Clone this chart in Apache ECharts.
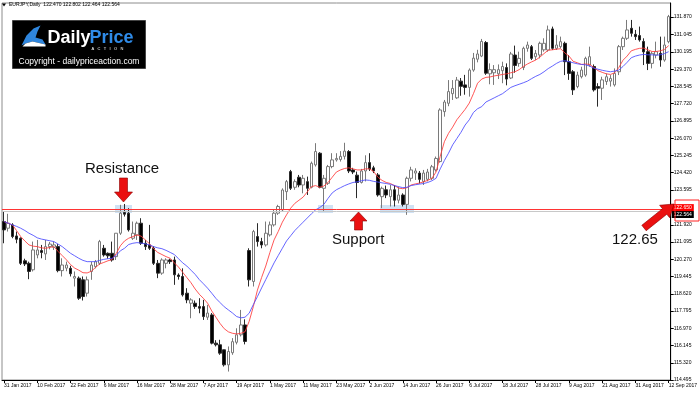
<!DOCTYPE html>
<html><head><meta charset="utf-8">
<script src="https://cdn.jsdelivr.net/npm/echarts@6/dist/echarts.min.js"></script>
<style>html,body{margin:0;padding:0;background:#fff}#c{width:700px;height:393px}</style>
</head><body><div id="c"></div>
<script>
// ---- data ----
const firstDay = '2017-01-31';
const lastDay = '2017-09-12';
const xTickLabels = ['31 Jan 2017','10 Feb 2017','22 Feb 2017','6 Mar 2017','16 Mar 2017','28 Mar 2017','7 Apr 2017','19 Apr 2017','1 May 2017','11 May 2017','23 May 2017','2 Jun 2017','14 Jun 2017','26 Jun 2017','6 Jul 2017','18 Jul 2017','28 Jul 2017','9 Aug 2017','21 Aug 2017','31 Aug 2017','12 Sep 2017'];
const yTickValues = [131.870,131.045,130.195,129.370,128.545,127.720,126.895,126.070,125.245,124.420,123.595,121.920,121.095,120.270,119.445,118.620,117.795,116.970,116.145,115.320,114.495];

const opens = [122.08,121.76,121.92,121.39,121.28,120.2,120.08,119.77,120.48,120.69,120.53,120.88,120.85,120.88,119.73,119.85,119.84,119.37,119.37,119.29,118.65,119.69,119.92,120.08,120.8,120.56,120.56,120.4,121.52,122.51,122.48,121.28,121.44,122.0,121.04,120.96,120.8,120.08,119.61,120.08,120.24,120.24,119.52,119.45,118.65,118.17,118.17,118.01,118.01,117.5,117.61,116.26,116.18,115.94,115.22,115.8,116.3,116.66,117.13,120.69,119.21,121.36,121.12,120.96,121.44,121.92,122.48,122.64,123.51,124.47,123.72,124.2,123.83,123.99,123.72,124.79,125.35,123.67,123.91,124.71,125.03,125.05,125.2,125.43,124.55,124.3,123.95,124.5,124.9,124.65,124.31,123.27,123.6,123.27,123.6,123.1,123.35,122.9,124.15,124.4,124.4,124.0,124.1,124.15,124.55,124.95,127.34,127.74,128.2,128.0,128.8,128.62,128.5,129.33,129.85,130.0,130.65,129.15,129.2,129.15,129.3,129.45,128.95,130.05,129.65,129.45,130.37,130.45,129.97,130.05,130.3,130.29,131.3,130.37,130.45,130.61,129.73,129.25,128.54,129.01,129.09,129.57,129.5,128.54,128.46,128.78,128.8,128.62,129.25,130.45,130.85,131.33,131.04,130.98,130.7,130.21,129.65,130.05,130.13,129.81,130.69];
const highs = [122.55,122.45,122.0,121.6,121.32,120.3,120.16,121.12,121.2,120.96,121.2,121.1,121.12,121.0,120.32,120.16,119.96,119.69,119.45,119.45,119.45,120.16,120.24,121.2,120.96,120.6,121.12,121.52,122.88,122.92,122.72,122.08,122.08,122.24,121.2,121.92,120.9,120.24,120.32,120.32,120.3,120.4,119.6,119.84,118.89,118.41,118.3,118.41,118.33,118.09,117.7,116.4,116.42,115.95,116.1,116.5,116.97,117.85,117.4,120.8,121.68,122.0,121.3,122.08,122.08,122.64,122.88,123.67,124.07,124.55,124.1,124.31,124.31,124.23,124.95,125.83,125.4,124.31,124.79,125.35,125.35,125.45,125.85,125.5,124.65,124.47,124.6,125.25,125.35,124.75,124.4,123.75,123.8,123.83,123.83,123.75,123.43,124.23,124.7,124.63,124.5,124.55,124.6,124.79,125.19,127.5,127.9,128.85,128.85,129.0,128.95,129.1,129.41,130.15,130.3,130.82,130.72,129.65,129.57,129.6,129.73,129.65,130.2,130.5,130.21,130.45,130.69,130.53,130.29,130.69,130.85,131.46,131.41,131.0,130.93,130.69,130.05,129.33,129.25,129.49,129.97,130.45,129.6,128.7,129.01,129.17,129.09,129.41,130.53,130.93,131.73,131.73,131.25,131.41,130.85,130.45,130.21,130.69,130.93,130.93,131.97];
const lows = [121.04,121.6,121.28,121.04,120.0,119.95,119.32,119.69,120.32,120.32,120.24,120.75,120.72,119.65,119.45,119.7,119.45,118.97,118.33,118.3,118.49,119.29,119.84,120.0,120.4,120.3,120.16,120.24,121.44,122.32,121.6,121.2,121.2,120.96,120.72,120.72,120.0,119.37,119.53,119.84,120.05,119.05,119.3,118.49,118.17,117.45,117.9,117.69,117.37,117.37,116.2,116.1,115.7,115.14,114.9,115.7,116.2,116.58,116.2,118.97,118.97,120.88,120.8,120.88,121.36,121.84,122.4,122.56,123.11,123.59,123.6,123.72,123.43,123.35,123.67,124.71,123.67,122.56,123.83,124.63,124.95,124.95,125.05,124.4,124.35,123.2,123.9,124.0,124.5,124.4,123.27,122.72,123.2,122.8,122.8,122.95,122.8,122.4,124.0,124.07,123.9,123.83,124.0,124.07,124.47,124.9,127.1,127.6,127.9,127.95,128.1,128.15,128.06,129.25,129.7,129.95,129.1,128.65,128.62,128.9,128.7,128.6,128.9,129.2,129.49,129.33,130.21,129.81,129.81,129.89,130.21,130.21,130.29,130.29,130.37,129.09,128.86,128.14,128.46,128.93,129.01,129.49,128.3,127.58,127.9,128.62,128.54,128.54,129.09,130.29,130.77,130.93,130.77,130.69,129.57,129.33,129.41,129.89,129.49,129.73,130.61];
const closes = [121.68,122.0,121.36,121.23,120.08,120.05,119.69,120.72,120.72,120.6,120.88,121.0,120.96,119.73,120.0,120.0,119.58,119.45,118.41,118.49,119.29,120.0,120.16,121.12,120.48,120.44,120.24,121.52,122.48,122.43,121.68,121.52,122.0,121.04,120.88,120.8,120.08,119.61,120.24,120.24,120.16,119.53,119.45,118.57,118.33,118.33,118.01,117.93,117.53,117.7,116.26,116.18,115.78,115.22,115.86,116.33,116.66,117.13,116.34,119.29,121.6,121.12,120.96,121.52,121.92,122.48,122.8,123.59,123.99,123.67,123.99,123.83,124.15,123.67,124.87,125.43,123.72,124.15,124.71,125.03,125.1,125.2,125.45,124.5,124.45,123.95,124.5,124.9,124.6,124.5,123.35,123.67,123.35,123.6,123.1,123.35,122.9,124.15,124.55,124.5,124.1,124.4,124.45,124.7,125.1,127.42,127.8,128.3,128.45,128.85,128.55,128.5,129.33,129.9,130.1,130.7,129.18,129.35,129.35,129.35,129.5,128.9,130.1,129.55,129.89,130.37,130.53,129.89,130.13,130.61,130.61,131.25,130.37,130.53,130.69,129.73,129.17,128.38,129.09,129.33,129.89,129.97,128.38,128.46,128.86,129.01,128.93,129.17,130.45,130.85,131.25,131.09,130.93,130.77,130.2,129.65,130.13,130.21,129.81,130.53,131.89];
const maRed = [122.08,122.0,121.92,121.65,121.36,121.15,120.96,120.9,120.88,120.82,120.8,120.84,120.88,120.65,120.45,120.25,120.02,119.85,119.75,119.63,119.62,119.7,119.88,120.05,120.12,120.2,120.26,120.55,120.92,121.15,121.28,121.36,121.44,121.38,121.2,121.02,120.78,120.6,120.5,120.4,120.32,120.1,119.9,119.65,119.4,119.15,118.85,118.6,118.4,118.17,117.8,117.5,117.2,116.95,116.8,116.73,116.7,116.73,116.8,117.3,118.0,118.8,119.4,119.95,120.6,121.2,121.6,122.05,122.4,122.72,122.95,123.1,123.25,123.5,123.75,123.8,123.72,123.78,123.95,124.2,124.45,124.55,124.62,124.65,124.6,124.55,124.55,124.6,124.6,124.47,124.2,124.05,123.95,123.9,123.8,123.68,123.65,123.7,123.83,123.88,123.92,123.98,124.05,124.15,124.45,125.2,125.9,126.3,126.6,126.95,127.2,127.45,127.75,128.2,128.7,128.9,128.98,129.0,129.05,129.08,129.12,129.15,129.2,129.25,129.35,129.5,129.62,129.72,129.81,129.95,130.12,130.28,130.3,130.33,130.35,130.15,130.0,129.75,129.68,129.6,129.62,129.6,129.45,129.3,129.22,129.15,129.12,129.2,129.45,129.8,130.0,130.25,130.32,130.37,130.38,130.3,130.22,130.22,130.25,130.32,130.5];
const maBlue = [122.08,122.0,121.92,121.85,121.76,121.65,121.52,121.42,121.3,121.24,121.2,121.16,121.12,121.0,120.88,120.72,120.56,120.44,120.32,120.22,120.16,120.16,120.16,120.22,120.27,120.3,120.32,120.46,120.68,120.8,120.98,121.04,121.07,121.05,121.01,120.96,120.88,120.82,120.78,120.7,120.6,120.5,120.3,120.1,119.95,119.75,119.55,119.3,119.1,118.89,118.65,118.4,118.2,118.0,117.85,117.7,117.53,117.47,117.5,117.69,118.1,118.49,118.9,119.3,119.7,120.1,120.45,120.8,121.15,121.4,121.65,121.85,122.05,122.25,122.45,122.64,122.75,122.9,123.19,123.45,123.6,123.7,123.8,123.88,123.95,123.98,124.03,124.07,124.05,124.0,123.97,123.93,123.9,123.86,123.8,123.75,123.7,123.72,123.8,123.84,123.87,123.9,123.95,124.03,124.15,124.6,125.0,125.35,125.75,126.05,126.35,126.7,126.95,127.3,127.48,127.58,127.8,127.9,128.0,128.1,128.2,128.35,128.5,128.58,128.65,128.72,128.8,128.92,129.03,129.12,129.25,129.4,129.52,129.65,129.75,129.78,129.73,129.68,129.63,129.6,129.58,129.52,129.42,129.37,129.32,129.28,129.25,129.28,129.33,129.5,129.7,129.92,130.0,130.05,130.08,130.06,130.06,130.04,130.06,130.12,130.21];
const levelLine = 122.65;
const bidLine = 122.564;
const titleText = 'EURJPY,Daily  122.470 122.802 122.464 122.564';

// ---- build categories (trading days) ----
const months = ['Jan','Feb','Mar','Apr','May','Jun','Jul','Aug','Sep','Oct','Nov','Dec'];
const dates = [];
for (let d = new Date(firstDay + 'T00:00:00Z'); d <= new Date(lastDay + 'T00:00:00Z'); d = new Date(d.getTime() + 86400000)) {
  const wd = d.getUTCDay();
  if (wd === 0 || wd === 6) continue;
  dates.push(d.getUTCDate() + ' ' + months[d.getUTCMonth()] + ' ' + d.getUTCFullYear());
}
const candles = opens.map((o, i) => [o, closes[i], lows[i], highs[i]]);
const isTick = (idx, val) => xTickLabels.indexOf(val) >= 0;

function arrow(tail, tip, shaftHalf, headHalf, headLen) {
  const dx = tip[0] - tail[0], dy = tip[1] - tail[1];
  const L = Math.hypot(dx, dy), ux = dx / L, uy = dy / L, nx = -uy, ny = ux;
  const bx = tip[0] - ux * headLen, by = tip[1] - uy * headLen;
  return [
    [tail[0] + nx * shaftHalf, tail[1] + ny * shaftHalf],
    [bx + nx * shaftHalf, by + ny * shaftHalf],
    [bx + nx * headHalf, by + ny * headHalf],
    tip,
    [bx - nx * headHalf, by - ny * headHalf],
    [bx - nx * shaftHalf, by - ny * shaftHalf],
    [tail[0] - nx * shaftHalf, tail[1] - ny * shaftHalf]
  ];
}
const arrowStyle = {fill: '#ea1010', stroke: '#8a0000', lineWidth: 0.6};

const FONT = 'Liberation Sans';
const chart = echarts.init(document.getElementById('c'), null, {renderer: 'canvas'});
chart.setOption({
  animation: false,
  backgroundColor: '#fff',
  grid: {left: 2, right: 24, top: 3, bottom: 13, show: true, borderColor: '#8c8c8c', borderWidth: 1, containLabel: false},
  xAxis: {
    type: 'category', data: dates, boundaryGap: true,
    axisLine: {show: true, lineStyle: {color: '#000', width: 1}},
    axisTick: {show: true, interval: isTick, alignWithLabel: true, length: 3, lineStyle: {color: '#000'}},
    axisLabel: {show: true, interval: isTick, align: 'left', fontFamily: FONT, fontSize: 5, color: '#000', margin: 3, hideOverlap: false},
    splitLine: {show: false}
  },
  yAxis: {
    type: 'value', position: 'right', min: 114.495, max: 132.54, scale: true,
    axisLine: {show: true, lineStyle: {color: '#000', width: 1}},
    axisTick: {show: true, customValues: yTickValues, length: 3, lineStyle: {color: '#000'}},
    axisLabel: {show: true, customValues: yTickValues, formatter: v => v.toFixed(3), fontFamily: FONT, fontSize: 5, color: '#000', margin: 3},
    splitLine: {show: false}
  },
  series: [
    {
      type: 'candlestick', data: candles, barWidth: 3,
      itemStyle: {color: '#ffffff', color0: '#000000', borderColor: '#7a7a7a', borderColor0: '#2a2a2a', borderWidth: 1},
      markLine: {
        silent: true, symbol: ['none', 'none'],
        data: [
          {yAxis: bidLine, lineStyle: {color: '#c8c8c8', width: 1, type: 'solid'},
           label: {show: true, position: 'end', formatter: bidLine.toFixed(3), backgroundColor: '#000', color: '#fff', fontFamily: FONT, fontSize: 5, padding: [1, 2, 1, 2], distance: 1, offset: [0, 3]}},
          {yAxis: levelLine, lineStyle: {color: '#ff3333', width: 1, type: 'solid'},
           label: {show: true, position: 'end', formatter: levelLine.toFixed(3), backgroundColor: '#ff0000', color: '#fff', fontFamily: FONT, fontSize: 5, padding: [1, 2, 1, 2], distance: 1, offset: [0, -2]}}
        ]
      },
      z: 3
    },
    {type: 'line', data: maRed, symbol: 'none', lineStyle: {color: '#ff3a3a', width: 1, opacity: 0.85}, z: 4},
    {type: 'line', data: maBlue, symbol: 'none', lineStyle: {color: '#4a4aff', width: 1, opacity: 0.85}, z: 4}
  ],
  graphic: [
    // highlight zones
    {type: 'rect', shape: {x: 115, y: 205, width: 17, height: 8}, style: {fill: 'rgba(150,190,230,0.45)'}, z: 1},
    {type: 'rect', shape: {x: 318, y: 205, width: 15, height: 8}, style: {fill: 'rgba(150,190,230,0.45)'}, z: 1},
    {type: 'rect', shape: {x: 380, y: 205, width: 34, height: 8}, style: {fill: 'rgba(150,190,230,0.45)'}, z: 1},
    // title
    {type: 'polygon', shape: {points: [[2, 3.5], [6, 3.5], [4, 6.5]]}, style: {fill: '#000'}, z: 10},
    {type: 'text', left: 9, top: 2, style: {text: titleText, font: '5px "Liberation Sans"', fill: '#000'}, z: 10},
    // logo
    {type: 'group', left: 12, top: 20, z: 10, children: [
      {type: 'rect', shape: {x: 0, y: 0, width: 133, height: 48}, style: {fill: '#000', stroke: '#444', lineWidth: 1}},
      {type: 'polygon', shape: {points: [[9, 25], [14, 15], [21, 8], [28, 5], [25, 11], [23, 17], [30, 19], [33, 24], [20, 21], [13, 23]]}, style: {fill: '#2f86dd'}},
      {type: 'polygon', shape: {points: [[13, 23], [20, 21], [33, 24], [33, 26], [10, 26]]}, style: {fill: '#ffffff'}},
      {type: 'text', x: 35, y: 8.5, style: {text: 'Daily', font: 'bold 18px "Liberation Sans"', fill: '#fff'}},
      {type: 'text', x: 77, y: 8.5, style: {text: 'Price', font: 'bold 18px "Liberation Sans"', fill: '#2f8be8'}},
      {type: 'text', x: 79, y: 26.5, style: {text: 'A   C   T   I   O   N', font: '4px "Liberation Sans"', fill: '#fff'}},
      {type: 'text', x: 6, y: 37, style: {text: 'Copyright - dailypriceaction.com', font: '8.5px "Liberation Sans"', fill: '#fff'}}
    ]},
    // annotations
    {type: 'text', x: 85, y: 161, style: {text: 'Resistance', font: '15px "Liberation Sans"', fill: '#111'}, z: 10},
    {type: 'polygon', shape: {points: arrow([123.5, 178], [123.5, 202], 4, 9, 10)}, style: arrowStyle, z: 10},
    {type: 'text', x: 332, y: 232, style: {text: 'Support', font: '15px "Liberation Sans"', fill: '#111'}, z: 10},
    {type: 'polygon', shape: {points: arrow([358.5, 230], [358.5, 212], 4, 8.5, 9)}, style: arrowStyle, z: 10},
    {type: 'text', x: 612, y: 232, style: {text: '122.65', font: '15px "Liberation Sans"', fill: '#111'}, z: 10},
    {type: 'polygon', shape: {points: arrow([644, 228], [674, 204], 3.5, 8, 12)}, style: arrowStyle, z: 10},
    {type: 'rect', shape: {x: 675, y: 200, width: 24, height: 21}, style: {fill: 'none', stroke: '#ff2222', lineWidth: 1}, z: 10}
  ]
});
</script></body></html>
